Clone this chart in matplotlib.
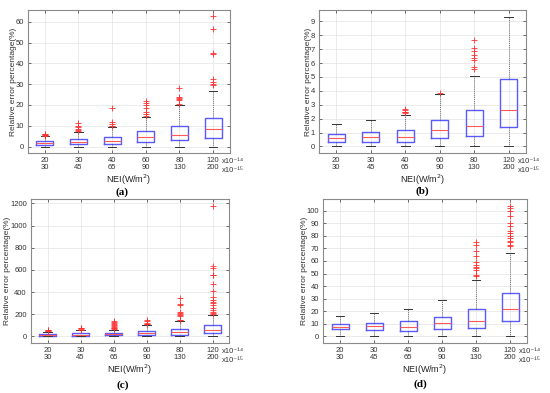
import matplotlib
matplotlib.use('Agg')
import matplotlib.pyplot as plt

plt.rcParams['font.family'] = ['Liberation Sans', 'DejaVu Sans']

# x categories: two NEI scales shown as two label rows
row1 = ['20', '30', '40', '60', '80', '120']
row2 = ['30', '45', '65', '90', '130', '200']
positions = [1, 2, 3, 4, 5, 6]

# (a)
a_q1 = [0.7, 1.0, 1.4, 2.2, 3.2, 4.2]
a_med = [1.5, 2.3, 2.7, 4.6, 5.6, 8.6]
a_q3 = [2.5, 3.7, 4.6, 7.3, 10.0, 13.8]
a_lo = [0, 0, 0, 0, 0, 0]
a_hi = [5.0, 7.2, 9.5, 14.2, 20.2, 26.8]
a_fliers = [
    [5.3, 5.5, 5.7, 5.9, 6.0],
    [7.5, 8.0, 8.5, 9.2, 10.0, 11.2],
    [9.8, 10.0, 11.0, 12.0, 18.5],
    [14.6, 15.8, 16.5, 18.5, 20.2, 21.0, 21.8],
    [20.5, 22.2, 22.8, 23.2, 23.8, 28.2],
    [29.8, 30.2, 31.2, 32.3, 44.6, 45.0, 56.6, 62.6],
]

# (b)
b_q1 = [0.35, 0.35, 0.35, 0.6, 0.78, 1.42]
b_med = [0.62, 0.65, 0.65, 1.2, 1.48, 2.65]
b_q3 = [0.9, 1.05, 1.15, 1.9, 2.62, 4.82]
b_lo = [0, 0, 0, 0, 0, 0]
b_hi = [1.65, 1.9, 2.3, 3.75, 5.1, 9.35]
b_fliers = [
    [],
    [],
    [2.4, 2.45, 2.5, 2.6, 2.7],
    [3.85],
    [5.6, 5.7, 6.2, 6.4, 6.6, 6.9, 7.05, 7.65],
    [],
]

# (c)
c_q1 = [5, 5, 10, 12, 15, 30]
c_med = [12, 15, 20, 28, 40, 55]
c_q3 = [20, 28, 35, 50, 70, 100]
c_lo = [0, 0, 0, 0, 0, 0]
c_hi = [40, 60, 60, 105, 140, 195]
c_fliers = [
    [45, 50, 55, 60],
    [62, 68, 72, 75],
    [65, 72, 80, 88, 95, 102, 110, 120, 130, 140],
    [110, 115, 125, 135, 145],
    [145, 150, 185, 190, 200, 210, 220, 285, 290, 345],
    [200, 210, 220, 240, 260, 280, 300, 310, 330, 360, 410, 470, 550, 555, 620, 635, 1180],
]

# (d)
d_q1 = [6.0, 5.0, 4.0, 6.0, 6.5, 12.5]
d_med = [7.8, 8.5, 7.8, 11.0, 12.5, 21.8]
d_q3 = [10.0, 11.0, 12.3, 15.5, 22.0, 34.8]
d_lo = [0, 0, 0, 0, 0, 0]
d_hi = [16.0, 19.0, 22.0, 28.8, 45.0, 66.5]
d_fliers = [
    [],
    [],
    [],
    [],
    [48, 49, 53, 54, 55, 57, 59, 64, 68, 73, 75],
    [72, 73, 75, 76, 78, 80, 82, 84, 88, 90, 96, 100, 102, 104],
]


def draw(ax, q1, med, q3, lo, hi, fliers, ylim, yticks):
    stats = []
    for i in range(len(positions)):
        stats.append(dict(q1=q1[i], med=med[i], q3=q3[i], whislo=lo[i],
                          whishi=hi[i], fliers=fliers[i]))
    ax.bxp(stats, positions=positions, widths=0.5,
           boxprops=dict(color='#5a5aff', lw=1.0),
           medianprops=dict(color='#ff5a5a', lw=0.8),
           whiskerprops=dict(color='#444444', lw=0.5, linestyle=(0, (1.5, 1.5))),
           capprops=dict(color='#333333', lw=0.7),
           flierprops=dict(marker='+', markeredgecolor='#ff3030', markersize=4,
                           markeredgewidth=0.6, linestyle='none'))
    ax.set_xlim(0.5, 6.5)
    ax.set_ylim(*ylim)
    ax.set_yticks(yticks)
    ax.set_xticks(positions)
    ax.set_xticklabels([a + '\n' + b for a, b in zip(row1, row2)])
    for lbl in ax.get_xticklabels():
        lbl.set_linespacing(1.05)
    ax.grid(True, color='#e3e3e3', lw=0.5)
    ax.set_axisbelow(True)
    ax.tick_params(direction='in', length=2, width=0.5, labelsize=5.5,
                   colors='#333333', top=True, right=True, pad=3)
    for s in ax.spines.values():
        s.set_color('#8a8a8a')
        s.set_linewidth(0.8)
    ax.set_ylabel('Relative error percentage(%)', fontsize=6, color='#333333', labelpad=-1)
    ax.set_xlabel('NEI(W/m$^2$)', fontsize=6.5, color='#222222', labelpad=1)
    ax.annotate('x10\u207b\u00b9\u2074', xy=(6.27, 0), xycoords=('data', 'axes fraction'),
                xytext=(0, -7.4), textcoords='offset points', ha='left', va='baseline',
                fontsize=5.5, color='#333333', annotation_clip=False)
    ax.annotate('x10\u207b\u00b9\u2075', xy=(6.27, 0), xycoords=('data', 'axes fraction'),
                xytext=(0, -13.8), textcoords='offset points', ha='left', va='baseline',
                fontsize=5.5, color='#333333', annotation_clip=False)


fig = plt.figure(figsize=(5.5, 3.93), dpi=100)
W, H = 550.0, 393.0


def box(l, r, t, b):
    return [l / W, 1 - b / H, (r - l) / W, (b - t) / H]


ax_a = fig.add_axes(box(28, 230, 10, 153))
ax_b = fig.add_axes(box(319, 526, 10, 153))
ax_c = fig.add_axes(box(31, 229, 199, 343))
ax_d = fig.add_axes(box(323, 527, 199, 343))

draw(ax_a, a_q1, a_med, a_q3, a_lo, a_hi, a_fliers, (-3.1, 65.7), range(0, 61, 10))
draw(ax_b, b_q1, b_med, b_q3, b_lo, b_hi, b_fliers, (-0.47, 9.82), range(0, 10))
draw(ax_c, c_q1, c_med, c_q3, c_lo, c_hi, c_fliers, (-59, 1239), range(0, 1201, 200))
draw(ax_d, d_q1, d_med, d_q3, d_lo, d_hi, d_fliers, (-5.2, 109.2), range(0, 101, 10))

for lab, x, y in [('(a)', 122, 192), ('(b)', 422, 191), ('(c)', 123, 385), ('(d)', 420, 384)]:
    fig.text(x / W, 1 - y / H, lab, ha='center', va='center', fontsize=8,
             fontweight='bold', family='Liberation Serif')

fig.savefig('out.png', dpi=100, facecolor='white')
